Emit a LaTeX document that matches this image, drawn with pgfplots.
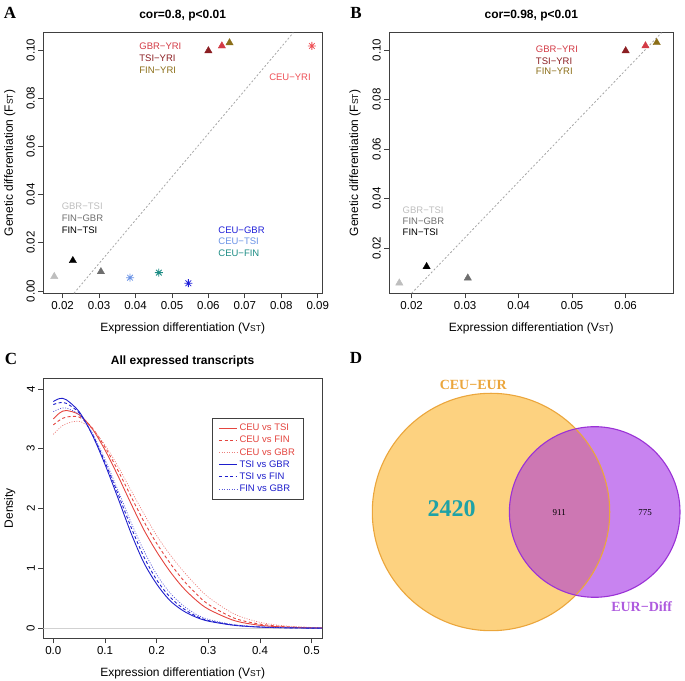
\documentclass[border=0pt]{standalone}
\usepackage{fontspec}
\setmainfont{Liberation Sans}
\newfontfamily\seriffont{Liberation Serif}
\usepackage{pgfplots}
\usepackage{pgfplotstable}
\pgfplotsset{compat=1.18}

\definecolor{cltgray}{HTML}{BEBEBE}
\definecolor{cgray}{HTML}{6E6E6E}
\definecolor{cgbr}{HTML}{D33A45}
\definecolor{ctsi}{HTML}{8B1E22}
\definecolor{cfin}{HTML}{8B6E18}
\definecolor{cceuyri}{HTML}{EE4F55}
\definecolor{cceugbr}{HTML}{1F1FD8}
\definecolor{cceutsi}{HTML}{6A93E6}
\definecolor{cceufin}{HTML}{1C8C84}
\definecolor{cred}{HTML}{E4453F}
\definecolor{cblue}{HTML}{1E1ECC}
\definecolor{credlt}{HTML}{EC7F7B}
\definecolor{cbluelt}{HTML}{5656D9}
\definecolor{vorange}{HTML}{FDD280}
\definecolor{vorangeline}{HTML}{EBA63C}
\definecolor{vpurple}{HTML}{C883F0}
\definecolor{vpurpleline}{HTML}{9A32D6}
\definecolor{voverlap}{HTML}{CD77B3}
\definecolor{vteal}{HTML}{1FA2A6}

% R style 8-line asterisk (pch=8)
\pgfdeclareplotmark{rstar}{%
  \pgfpathmoveto{\pgfqpoint{-\pgfplotmarksize}{0pt}}\pgfpathlineto{\pgfqpoint{\pgfplotmarksize}{0pt}}%
  \pgfpathmoveto{\pgfqpoint{0pt}{-\pgfplotmarksize}}\pgfpathlineto{\pgfqpoint{0pt}{\pgfplotmarksize}}%
  \pgfpathmoveto{\pgfqpoint{-0.707\pgfplotmarksize}{-0.707\pgfplotmarksize}}\pgfpathlineto{\pgfqpoint{0.707\pgfplotmarksize}{0.707\pgfplotmarksize}}%
  \pgfpathmoveto{\pgfqpoint{-0.707\pgfplotmarksize}{0.707\pgfplotmarksize}}\pgfpathlineto{\pgfqpoint{0.707\pgfplotmarksize}{-0.707\pgfplotmarksize}}%
  \pgfusepathqstroke}

\tikzset{lab/.style={anchor=west, inner sep=0pt, font=\fontsize{9.5}{11}\selectfont}}

\pgfplotsset{
  rplot/.style={
    scale only axis, enlargelimits=false,
    scaled x ticks=false, scaled y ticks=false,
    axis line style={black!75, line width=0.8pt},
    tick pos=left, tick align=outside, major tick length=5pt,
    tick style={black!75, line width=0.7pt},
    ticklabel style={font=\fontsize{11.5}{13}\selectfont},
    /pgf/number format/assume math mode=true,
    yticklabel style={rotate=90, anchor=south},
    label style={font=\fontsize{12}{14}\selectfont},
    xlabel style={at={(axis description cs:0.5,0)}, anchor=center, yshift=-35pt},
    title style={font=\bfseries\fontsize{12}{14}\selectfont, yshift=2pt},
  },
  dec2/.style={/pgf/number format/fixed, /pgf/number format/fixed zerofill, /pgf/number format/precision=2},
  dec1/.style={/pgf/number format/fixed, /pgf/number format/fixed zerofill, /pgf/number format/precision=1},
  tri/.style={only marks, mark=triangle*, mark size=4.2pt, mark options={draw=#1, fill=#1}},
  str/.style={only marks, mark=rstar, mark size=4pt, mark options={draw=#1, line width=0.8pt}},
}

% density curves, panel C
\pgfplotstableread{
x      ceutsi ceufin ceugbr tsigbr tsifin fingbr
0      3.50   3.40   3.24   3.79   3.74   3.62
0.0125 3.60   3.48   3.35   3.84   3.77   3.67
0.025  3.64   3.53   3.42   3.82   3.76   3.68
0.05   3.57   3.53   3.46   3.62   3.60   3.57
0.075  3.34   3.35   3.33   3.24   3.25   3.27
0.1    2.98   3.03   3.06   2.74   2.78   2.82
0.125  2.55   2.64   2.71   2.18   2.25   2.31
0.15   2.09   2.21   2.31   1.60   1.70   1.78
0.175  1.65   1.79   1.92   1.10   1.20   1.30
0.2    1.28   1.42   1.55   0.74   0.81   0.90
0.225  0.96   1.10   1.24   0.47   0.53   0.60
0.25   0.69   0.82   0.97   0.30   0.34   0.39
0.275  0.48   0.59   0.73   0.19   0.21   0.24
0.3    0.32   0.40   0.52   0.12   0.13   0.15
0.35   0.13   0.17   0.24   0.05   0.055  0.06
0.4    0.05   0.07   0.10   0.02   0.022  0.025
0.45   0.02   0.028  0.04   0.008  0.009  0.01
0.5    0.008  0.011  0.015  0.003  0.003  0.004
0.52   0.005  0.008  0.01   0.002  0.002  0.003
}\dens

\begin{document}
\begin{tikzpicture}
\path[use as bounding box] (0pt,0pt) rectangle (685pt,680pt);

% ---------- A ----------
\begin{axis}[rplot, at={(43.3pt,386.7pt)}, anchor=south west,
  width=278.7pt, height=260.6pt,
  xmin=0.01469, xmax=0.09118, ymin=-0.00097, ymax=0.1072,
  xtick={0.02,0.03,...,0.09}, ytick={0,0.02,...,0.1},
  xticklabel style={dec2}, yticklabel style={dec2},
  title={cor=0.8, p<0.01},
  xlabel={Expression differentiation (V{\fontsize{8.5}{10}\selectfont ST})},
  ylabel={Genetic differentiation (F{\fontsize{8.5}{10}\selectfont ST})},
  ylabel style={at={(axis description cs:-0.12,0.5)}, anchor=center},
]
\addplot[color=black!35, dash pattern=on 2pt off 2pt, line width=0.8pt] coordinates {(0.0231,-0.00097) (0.0833,0.1072)};
\addplot[tri=cltgray] coordinates {(0.0177,0.0060)};
\addplot[tri=black] coordinates {(0.0228,0.0126)};
\addplot[tri=cgray] coordinates {(0.0305,0.0080)};
\addplot[tri=ctsi] coordinates {(0.0600,0.0997)};
\addplot[tri=cgbr] coordinates {(0.0637,0.1017)};
\addplot[tri=cfin] coordinates {(0.0658,0.1030)};
\addplot[str=cceutsi] coordinates {(0.0385,0.0055)};
\addplot[str=cceufin] coordinates {(0.0464,0.0076)};
\addplot[str=cceugbr] coordinates {(0.0545,0.0032)};
\addplot[str=cceuyri] coordinates {(0.0884,0.1017)};
\node[lab, text=cgbr] at (axis cs:0.0410,0.1014) {GBR−YRI};
\node[lab, text=ctsi] at (axis cs:0.0410,0.0965) {TSI−YRI};
\node[lab, text=cfin] at (axis cs:0.0410,0.0917) {FIN−YRI};
\node[lab, anchor=center, text=cceuyri] at (axis cs:0.0824,0.0889) {CEU−YRI};
\node[lab, text=cltgray] at (axis cs:0.0197,0.0350) {GBR−TSI};
\node[lab, text=cgray] at (axis cs:0.0197,0.0302) {FIN−GBR};
\node[lab, text=black] at (axis cs:0.0197,0.0253) {FIN−TSI};
\node[lab, text=cceugbr] at (axis cs:0.0627,0.0253) {CEU−GBR};
\node[lab, text=cceutsi] at (axis cs:0.0627,0.0205) {CEU−TSI};
\node[lab, text=cceufin] at (axis cs:0.0627,0.0156) {CEU−FIN};
\end{axis}

% ---------- B ----------
\begin{axis}[rplot, at={(389.3pt,386.7pt)}, anchor=south west,
  width=284pt, height=260.6pt,
  xmin=0.01583, xmax=0.0689, ymin=0.00185, ymax=0.107,
  xtick={0.02,0.03,...,0.06}, ytick={0.02,0.04,...,0.1},
  xticklabel style={dec2}, yticklabel style={dec2},
  title={cor=0.98, p<0.01},
  xlabel={Expression differentiation (V{\fontsize{8.5}{10}\selectfont ST})},
  ylabel={Genetic differentiation (F{\fontsize{8.5}{10}\selectfont ST})},
  ylabel style={at={(axis description cs:-0.121,0.5)}, anchor=center},
]
\addplot[color=black!35, dash pattern=on 2pt off 2pt, line width=0.8pt] coordinates {(0.0200,0.00185) (0.0667,0.107)};
\addplot[tri=cltgray] coordinates {(0.0177,0.0060)};
\addplot[tri=black] coordinates {(0.0228,0.0126)};
\addplot[tri=cgray] coordinates {(0.0305,0.0080)};
\addplot[tri=ctsi] coordinates {(0.0600,0.0997)};
\addplot[tri=cgbr] coordinates {(0.0637,0.1017)};
\addplot[tri=cfin] coordinates {(0.0658,0.1030)};
\node[lab, text=cgbr] at (axis cs:0.0432,0.1003) {GBR−YRI};
\node[lab, text=ctsi] at (axis cs:0.0432,0.0956) {TSI−YRI};
\node[lab, text=cfin] at (axis cs:0.0432,0.0913) {FIN−YRI};
\node[lab, text=cltgray] at (axis cs:0.0183,0.0352) {GBR−TSI};
\node[lab, text=cgray] at (axis cs:0.0183,0.0308) {FIN−GBR};
\node[lab, text=black] at (axis cs:0.0183,0.0263) {FIN−TSI};
\end{axis}

% ---------- C ----------
\begin{axis}[rplot, at={(43.3pt,41.7pt)}, anchor=south west,
  width=278.7pt, height=260pt,
  xmin=-0.0194, xmax=0.52, ymin=-0.167, ymax=4.178,
  xtick={0,0.1,...,0.5}, ytick={0,1,2,3,4},
  xticklabel style={dec1},
  title={All expressed transcripts},
  xlabel={Expression differentiation (V{\fontsize{8.5}{10}\selectfont ST})},
  ylabel={Density},
  ylabel style={at={(axis description cs:-0.12,0.5)}, anchor=center},
  legend cell align=left,
  legend image code/.code={\draw[#1] (0pt,0pt) -- (18pt,0pt);},
  legend style={at={(0.933,0.848)}, anchor=north east, draw=black!75, line width=0.8pt,
    font=\fontsize{9.5}{11}\selectfont, inner xsep=6pt, inner ysep=4pt, row sep=0pt},
]
\addplot[color=black!18, line width=0.6pt, forget plot] coordinates {(-0.0194,0) (0.52,0)};
\addplot[draw=cred, line width=0.9pt, smooth] table[x=x, y=ceutsi] {\dens};
\addlegendentry{\textcolor{cred}{CEU vs TSI}}
\addplot[draw=cred, line width=0.9pt, smooth, dash pattern=on 3pt off 2.5pt] table[x=x, y=ceufin] {\dens};
\addlegendentry{\textcolor{cred}{CEU vs FIN}}
\addplot[draw=credlt, line width=0.7pt, smooth, dash pattern=on 1pt off 1.5pt] table[x=x, y=ceugbr] {\dens};
\addlegendentry{\textcolor{cred}{CEU vs GBR}}
\addplot[draw=cblue, line width=0.9pt, smooth] table[x=x, y=tsigbr] {\dens};
\addlegendentry{\textcolor{cblue}{TSI vs GBR}}
\addplot[draw=cblue, line width=0.9pt, smooth, dash pattern=on 3pt off 2.5pt] table[x=x, y=tsifin] {\dens};
\addlegendentry{\textcolor{cblue}{TSI vs FIN}}
\addplot[draw=cbluelt, line width=0.7pt, smooth, dash pattern=on 1pt off 1.5pt] table[x=x, y=fingbr] {\dens};
\addlegendentry{\textcolor{cblue}{FIN vs GBR}}
\end{axis}

% ---------- D ----------
\begin{axis}[at={(340pt,0pt)}, anchor=south west, scale only axis, enlargelimits=false,
  width=345pt, height=340pt, xmin=0, xmax=345, ymin=0, ymax=340, hide axis, clip=false]
\fill[vorange] (axis cs:151,168) circle[radius=118.7];
\fill[vpurple] (axis cs:254.7,168) circle[radius=85.3];
\begin{scope}
  \clip (axis cs:151,168) circle[radius=118.7];
  \fill[voverlap] (axis cs:254.7,168) circle[radius=85.3];
\end{scope}
\draw[vorangeline, line width=1.1pt] (axis cs:151,168) circle[radius=118.7];
\draw[vpurpleline, line width=1.1pt] (axis cs:254.7,168) circle[radius=85.3];
\node[text=vorangeline, font=\seriffont\bfseries\fontsize{14}{16}\selectfont] at (axis cs:133.3,295) {CEU−EUR};
\node[text=vpurpleline!80!white, font=\seriffont\bfseries\fontsize{14}{16}\selectfont] at (axis cs:301.7,73.3) {EUR−Diff};
\node[text=vteal, font=\seriffont\bfseries\fontsize{24}{26}\selectfont] at (axis cs:111.7,171.7) {2420};
\node[font=\seriffont\fontsize{9}{11}\selectfont] at (axis cs:219.3,167.7) {911};
\node[font=\seriffont\fontsize{9}{11}\selectfont] at (axis cs:305,167.7) {775};
\end{axis}

% panel letters
\node[font=\seriffont\bfseries\fontsize{17}{19}\selectfont] at (10pt,666.7pt) {A};
\node[font=\seriffont\bfseries\fontsize{17}{19}\selectfont] at (356pt,666.7pt) {B};
\node[font=\seriffont\bfseries\fontsize{17}{19}\selectfont] at (11pt,321pt) {C};
\node[font=\seriffont\bfseries\fontsize{17}{19}\selectfont] at (356pt,322pt) {D};
\end{tikzpicture}
\end{document}
